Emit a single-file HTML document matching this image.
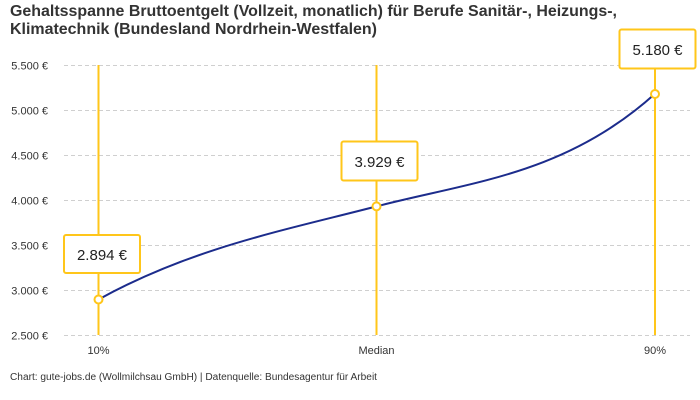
<!DOCTYPE html>
<html><head><meta charset="utf-8"><style>
html,body{margin:0;padding:0;background:#fff;}
svg{display:block;}
</style></head><body>
<svg width="700" height="400" viewBox="0 0 700 400" xmlns="http://www.w3.org/2000/svg" font-family="'Liberation Sans', sans-serif">
<rect width="700" height="400" fill="#fff"/>
<text x="10" y="16" font-size="16" font-weight="bold" fill="#333" textLength="607" lengthAdjust="spacingAndGlyphs">Gehaltsspanne Bruttoentgelt (Vollzeit, monatlich) für Berufe Sanitär-, Heizungs-,</text>
<text x="10" y="34" font-size="16" font-weight="bold" fill="#333" textLength="367" lengthAdjust="spacingAndGlyphs">Klimatechnik (Bundesland Nordrhein-Westfalen)</text>
<g stroke="#cfcfcf" stroke-width="1" stroke-dasharray="4,3">
<line x1="64" x2="690" y1="65.5" y2="65.5"/>
<line x1="64" x2="690" y1="110.5" y2="110.5"/>
<line x1="64" x2="690" y1="155.5" y2="155.5"/>
<line x1="64" x2="690" y1="200.5" y2="200.5"/>
<line x1="64" x2="690" y1="245.5" y2="245.5"/>
<line x1="64" x2="690" y1="290.5" y2="290.5"/>
<line x1="64" x2="690" y1="335.5" y2="335.5"/>
</g>
<g font-size="11" fill="#333" text-anchor="end">
<text x="48" y="69.5">5.500 €</text>
<text x="48" y="114.5">5.000 €</text>
<text x="48" y="159.5">4.500 €</text>
<text x="48" y="204.5">4.000 €</text>
<text x="48" y="249.5">3.500 €</text>
<text x="48" y="294.5">3.000 €</text>
<text x="48" y="339.5">2.500 €</text>
</g>
<g font-size="11" fill="#333" text-anchor="middle">
<text x="98.5" y="354">10%</text>
<text x="376.5" y="354">Median</text>
<text x="655" y="354">90%</text>
</g>
<g stroke="#ffc61a" stroke-width="2">
<line x1="98.5" x2="98.5" y1="65" y2="335"/>
<line x1="376.5" x2="376.5" y1="65" y2="335"/>
<line x1="655" x2="655" y1="65" y2="335"/>
</g>
<path d="M98.5,299.5 C191,248.3 283,230.6 376.5,206.4 C469,182.2 565,175 655,93.8" fill="none" stroke="#1c2c8c" stroke-width="2"/>
<g fill="#fff" stroke="#ffc61a" stroke-width="2">
<circle cx="98.5" cy="299.5" r="4"/>
<circle cx="376.5" cy="206.4" r="4"/>
<circle cx="655" cy="94" r="4"/>
<rect x="64" y="235" width="76" height="38" rx="2"/>
<rect x="341.5" y="141.5" width="76" height="39" rx="2"/>
<rect x="619.5" y="29.5" width="76" height="39" rx="2"/>
</g>
<g font-size="15" fill="#222" text-anchor="middle">
<text x="102" y="260">2.894 €</text>
<text x="379.5" y="167">3.929 €</text>
<text x="657.5" y="55">5.180 €</text>
</g>
<text x="10" y="380" font-size="10" fill="#333" textLength="367" lengthAdjust="spacingAndGlyphs">Chart: gute-jobs.de (Wollmilchsau GmbH) | Datenquelle: Bundesagentur für Arbeit</text>
</svg>
</body></html>
